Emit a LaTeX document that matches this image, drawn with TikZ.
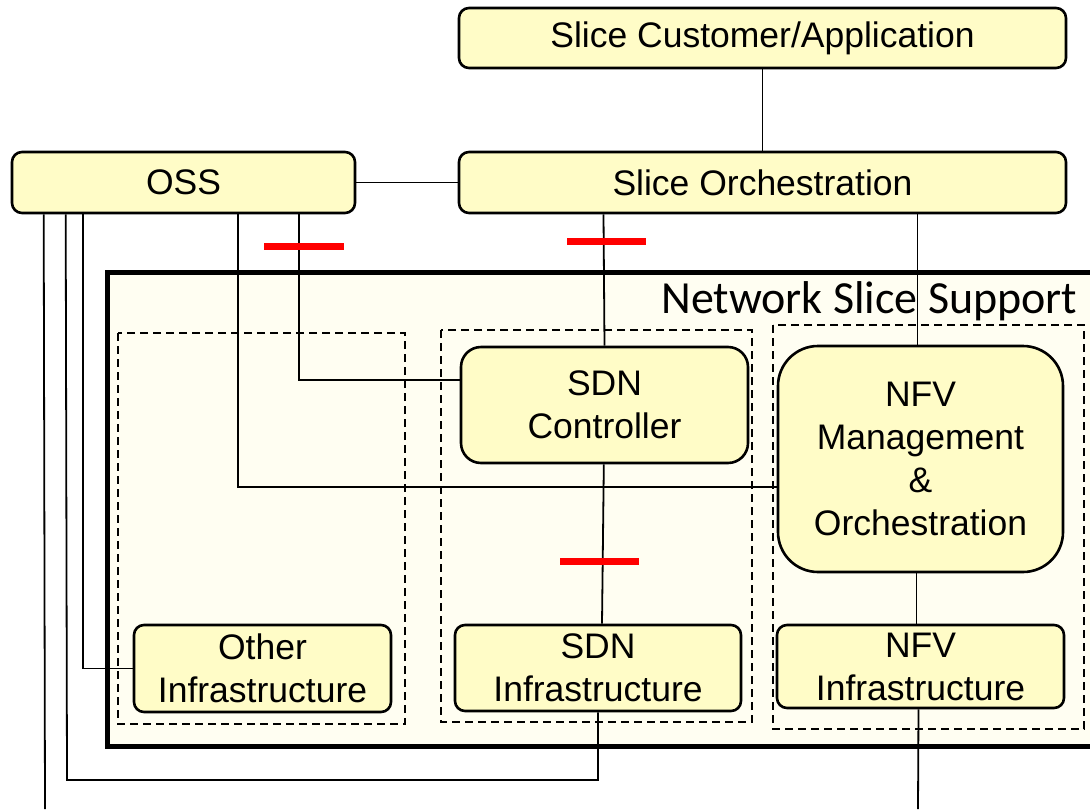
\documentclass[tikz,border=0pt]{standalone}
\usepackage{fontspec}
\setmainfont{Liberation Sans}
\newfontfamily\titlefont{Carlito}
\usetikzlibrary{positioning}

\begin{document}
\begin{tikzpicture}[
    x=1pt, y=-1pt,
    box/.style={draw, line width=2.6pt, rounded corners=10pt, fill=yellow!22,
        align=center, inner sep=0pt, font=\fontsize{35.5}{43}\selectfont},
    group/.style={draw, dashed, line width=1.7pt, dash pattern=on 8pt off 5pt},
    link/.style={line width=1.8pt},
    block/.style={red, line width=7pt}
]
    \path[use as bounding box, clip] (0,0) rectangle (1090,809);

    % Network Slice Support
    \draw[line width=5pt, fill=yellow!5] (107,272) rectangle (1110,746);
    \node[anchor=base east, font=\titlefont\fontsize{46}{52}\selectfont] (nss) at (1081,313) {Network Slice Support};
    \draw[group] (118,333) rectangle (405,724);
    \draw[group] (441,330) rectangle (752,722);
    \draw[group] (773,325) rectangle (1084,729);

    % boxes
    \node[box, minimum width=607pt, minimum height=60pt] (cust) at (762.5,38) {Slice Customer/Application};
    \node[box, minimum width=343pt, minimum height=61pt] (oss) at (183.5,182.5) {OSS};
    \node[box, minimum width=607pt, minimum height=61pt] (orch) at (762.5,182.5) {Slice Orchestration};
    \node[box, rounded corners=20pt, minimum width=287pt, minimum height=116pt] (sdnc) at (604.5,405) {SDN\\Controller};
    \node[box, rounded corners=40pt, minimum width=285pt, minimum height=226pt] (nfvmo) at (920.5,459) {NFV\\Management\\\&\\Orchestration};
    \node[box, minimum width=257pt, minimum height=87pt] (other) at (262.5,668.5) {Other\\Infrastructure};
    \node[box, minimum width=286pt, minimum height=86pt] (sdni) at (598,668) {SDN\\Infrastructure};
    \node[box, minimum width=287pt, minimum height=83pt] (nfvi) at (920.5,666.5) {NFV\\Infrastructure};

    \coordinate (loopL) at (67,780);
    \coordinate (outL) at (45,809);
    \coordinate (outR) at (918,809);

    % connectors
    \draw[link] (cust) -- (orch);
    \draw[link] (oss) -- (orch);
    \draw[link] ([xshift=-159pt]orch.south) -- (sdnc.north);
    \draw[link] ([xshift=155pt]orch.south) -- ([xshift=-3pt]nfvmo.north);
    \draw[link] (sdnc) -- ([xshift=4pt]sdni.north);
    \draw[link] ([xshift=-4pt]nfvmo.south) -- ([xshift=-4pt]nfvi.north);
    \draw[link] ([xshift=288pt]oss.south west) |- ([yshift=25pt]sdnc.west);
    \draw[link] ([xshift=227pt]oss.south west) |- ([yshift=-28pt]nfvmo.west);
    \draw[link] ([xshift=72pt]oss.south west) |- (other.west);
    \draw[link] ([xshift=55pt]oss.south west) -- (loopL) -| (sdni.south);
    \draw[link] ([xshift=33pt]oss.south west) -- (outL);
    \draw[link] ([xshift=-2pt]nfvi.south) -- (outR);

    % blocked interfaces
    \draw[block] (264,246) -- (344,246);
    \draw[block] (567,241) -- (646,241);
    \draw[block] (560,561) -- (639,561);
\end{tikzpicture}
\end{document}
